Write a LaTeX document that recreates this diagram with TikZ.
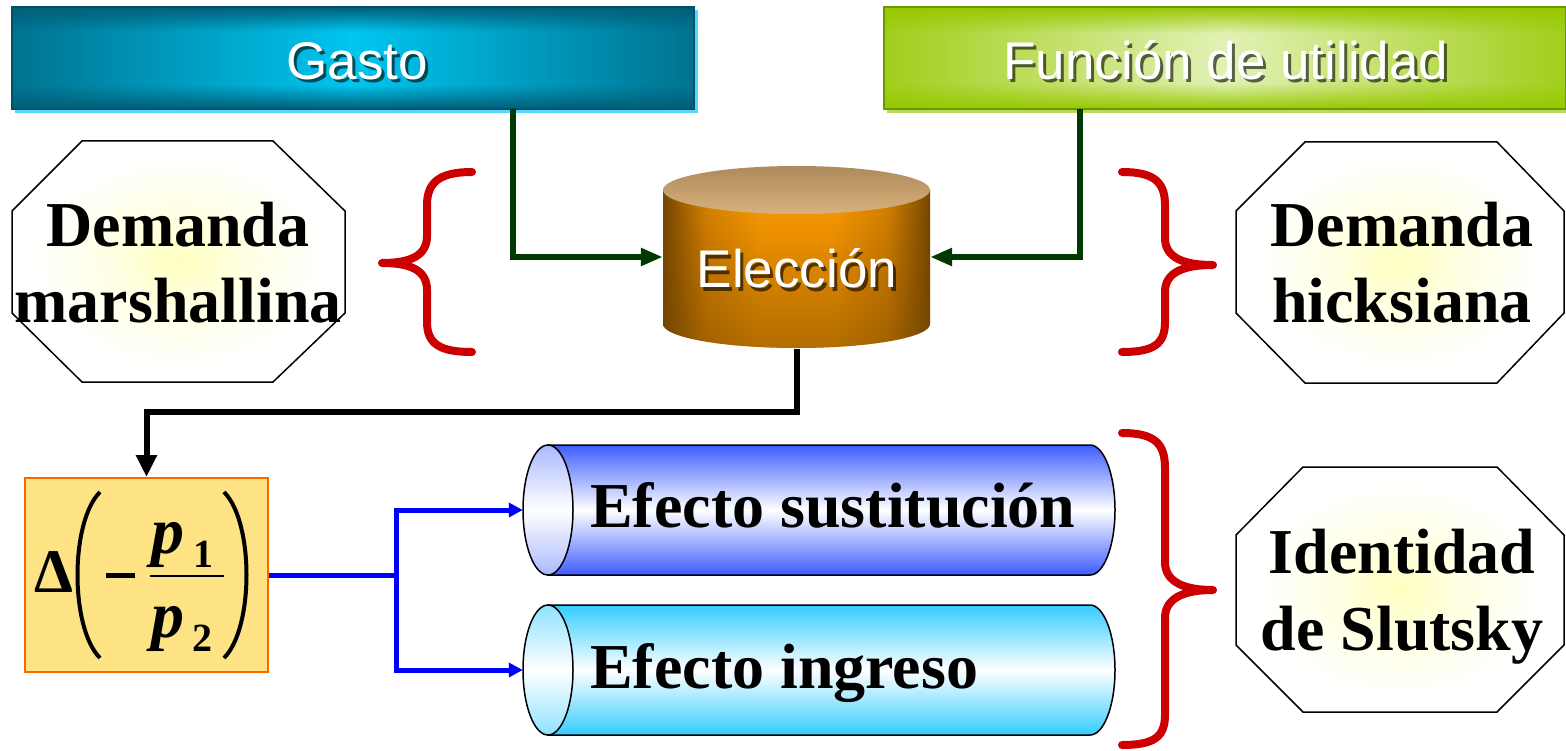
\documentclass[tikz,border=0pt]{standalone}
\usepackage{fontspec}
\setmainfont{Liberation Serif}
\newfontfamily\titlesans{Liberation Sans}
\usetikzlibrary{arrows.meta,calc,fadings}
\definecolor{gastoin}{HTML}{00C6F0}
\definecolor{gastoout}{HTML}{005E78}
\definecolor{gastoline}{HTML}{00506A}
\definecolor{gastoshad}{HTML}{55D8FF}
\definecolor{funcin}{HTML}{E2F2B6}
\definecolor{funcout}{HTML}{97C800}
\definecolor{funcline}{HTML}{6A9800}
\definecolor{funcshad}{HTML}{B8DC5A}
\definecolor{elecin}{HTML}{FF9C00}
\definecolor{elecmid}{HTML}{D88200}
\definecolor{elecout}{HTML}{744600}
\definecolor{electop}{HTML}{AE8A5C}
\definecolor{electopb}{HTML}{D8B27C}
\definecolor{octin}{HTML}{FFFFC0}
\definecolor{octmid}{HTML}{FFFFE4}
\definecolor{bracered}{HTML}{CC0000}
\definecolor{conngreen}{HTML}{003A00}
\definecolor{deltafill}{HTML}{FDE383}
\definecolor{deltaline}{HTML}{FF6600}
\definecolor{sustdark}{HTML}{3D5CFF}
\definecolor{sustface}{HTML}{A9B9FF}
\definecolor{ingrdark}{HTML}{33CCFF}
\definecolor{ingrface}{HTML}{8EE2FF}
\pgfdeclareverticalshading{gastov}{100bp}{color(0bp)=(gastoout); color(25bp)=(gastoout); color(37bp)=(gastoin); color(63bp)=(gastoin); color(75bp)=(gastoout); color(100bp)=(gastoout)}
\pgfdeclareverticalshading{funcv}{100bp}{color(0bp)=(funcout); color(25bp)=(funcout); color(38bp)=(funcin); color(62bp)=(funcin); color(75bp)=(funcout); color(100bp)=(funcout)}
\pgfdeclarehorizontalshading{elech}{100bp}{color(0bp)=(elecout); color(25bp)=(elecout); color(33bp)=(elecmid); color(43bp)=(elecin); color(57bp)=(elecin); color(67bp)=(elecmid); color(75bp)=(elecout); color(100bp)=(elecout)}
\pgfdeclareradialshading{octshade}{\pgfpoint{0bp}{0bp}}{color(0bp)=(octin); color(10bp)=(octmid); color(22bp)=(white); color(50bp)=(white)}
\tikzfading[name=hedge, left color=transparent!0, right color=transparent!0, middle color=transparent!100]
\tikzfading[name=bottomdark, top color=transparent!100, bottom color=transparent!0]
\begin{document}
\begin{tikzpicture}[x=1pt,y=-1pt,
  frame/.style={draw=none,fill=none,inner sep=0pt},
  titletext/.style={font=\titlesans\fontsize{53}{60}\selectfont,text=white,inner sep=0pt},
  titleshadow/.style={font=\titlesans\fontsize{53}{60}\selectfont,text=black,opacity=0.6,inner sep=0pt},
  bigtext/.style={font=\bfseries\fontsize{64}{76}\selectfont,inner sep=0pt},
  octagon/.style={shading=octshade,draw=black,line width=1.5},
  bracestyle/.style={draw=bracered,line width=8,line cap=round,line join=round},
  greenconn/.style={draw=conngreen,line width=5.5,-{Triangle[length=22pt,width=17pt]}},
  blackconn/.style={draw=black,line width=6,-{Triangle[length=22pt,width=20pt]}},
  blueconn/.style={draw=blue,line width=5,-{Triangle[length=14pt,width=14pt]}},
  cylline/.style={draw=black,line width=1.5}
]
\useasboundingbox (0,0) rectangle (1566,751);
% ---------- title boxes
\fill[gastoshad] (15,10) rectangle (698,113);
\shade[shading=gastov] (12,7) rectangle (694,109);
\fill[gastoout,opacity=0.8,path fading=hedge] (12,7) rectangle (694,109);
\draw[gastoline,line width=1.5] (12,7) rectangle (694,109);
\node[frame,minimum width=682,minimum height=102] (gasto) at (353,58) {};
\node[titleshadow,anchor=base] (gastoshadow) at (360,83) {Gasto};
\node[titletext,anchor=base] (gastotext) at (357,80) {Gasto};

\fill[funcshad] (887,10) rectangle (1570,113);
\shade[shading=funcv] (884,7) rectangle (1566,109);
\fill[funcout,opacity=0.85,path fading=hedge] (884,7) rectangle (1566,109);
\draw[funcline,line width=1.5] (884,7) rectangle (1566,109);
\node[frame,minimum width=682,minimum height=102] (funcion) at (1225,58) {};
\node[titleshadow,anchor=base] (funcshadow) at (1229,83) {Función de utilidad};
\node[titletext,anchor=base] (functext) at (1226,80) {Función de utilidad};

% ---------- Eleccion cylinder
\shade[shading=elech] (663,190) -- (663,324) arc[start angle=180,end angle=0,x radius=133.5,y radius=24] -- (930,190) -- cycle;
\fill[elecout,opacity=0.55,path fading=bottomdark] (663,190) -- (663,324) arc[start angle=180,end angle=0,x radius=133.5,y radius=24] -- (930,190) -- cycle;
\shade[top color=electop,bottom color=electopb] (796.5,190) ellipse[x radius=133.5,y radius=24];
\node[frame,minimum width=267,minimum height=184] (elec) at (796.5,257) {};
\node[titleshadow,anchor=base] (elecshadow) at (800,291) {Elección};
\node[titletext,anchor=base] (electext) at (797,288) {Elección};

% ---------- octagons
\shade[octagon] (82,141) -- (273,141) -- (345,211) -- (345,313) -- (273,382) -- (82,382) -- (12,313) -- (12,211) -- cycle;
\node[bigtext,anchor=base] (marsh1) at (178,247) {Demanda};
\node[bigtext,anchor=base] (marsh2) at (178,323) {marshallina};

\shade[octagon] (1305,142) -- (1497,142) -- (1564,211) -- (1564,313) -- (1497,383) -- (1305,383) -- (1236,313) -- (1236,211) -- cycle;
\node[bigtext,anchor=base] (hicks1) at (1402,247) {Demanda};
\node[bigtext,anchor=base] (hicks2) at (1402,323) {hicksiana};

\shade[octagon] (1303,467) -- (1497,467) -- (1564,535) -- (1564,645) -- (1497,712) -- (1303,712) -- (1236,645) -- (1236,535) -- cycle;
\node[bigtext,anchor=base] (slut1) at (1402,573) {Identidad};
\node[bigtext,anchor=base] (slut2) at (1402,650) {de Slutsky};

% ---------- braces
\draw[bracestyle] (472,172) .. controls (440,172) and (427,182) .. (427,205) -- (427,236) .. controls (427,256) and (410,263) .. (382,263) .. controls (410,263) and (427,270) .. (427,290) -- (427,322) .. controls (427,344) and (440,352) .. (472,352);
\draw[bracestyle] (1122,172) .. controls (1154,172) and (1165,182) .. (1165,205) -- (1165,238) .. controls (1165,258) and (1184,265) .. (1213,265) .. controls (1184,265) and (1165,272) .. (1165,292) -- (1165,322) .. controls (1165,344) and (1154,352) .. (1122,352);
\draw[bracestyle] (1122,433) .. controls (1154,433) and (1165,443) .. (1165,468) -- (1165,562) .. controls (1165,582) and (1184,590) .. (1213,590) .. controls (1184,590) and (1165,598) .. (1165,618) -- (1165,715) .. controls (1165,737) and (1154,745) .. (1122,745);

% ---------- delta box
\node[draw=deltaline,fill=deltafill,line width=2,minimum width=243,minimum height=194,inner sep=0pt] (delta) at (146.5,575) {};
\node[font=\bfseries\fontsize{62}{70}\selectfont,inner sep=0pt,anchor=base] (deltasym) at (54,592) {Δ};
\draw[line width=4] (100,492) .. controls (70,522) and (70,628) .. (100,658);
\draw[line width=4] (224,492) .. controls (254,522) and (254,628) .. (224,658);
\draw[line width=5] (106,575) -- (135,575);
\node[font=\bfseries\itshape\fontsize{66}{70}\selectfont,inner sep=0pt,anchor=base] (pone) at (168,553) {p};
\node[font=\bfseries\fontsize{40}{44}\selectfont,inner sep=0pt,anchor=base] (one) at (203,567) {1};
\draw[line width=1.5] (150,576) -- (224,576);
\node[font=\bfseries\itshape\fontsize{66}{70}\selectfont,inner sep=0pt,anchor=base] (ptwo) at (168,637) {p};
\node[font=\bfseries\fontsize{40}{44}\selectfont,inner sep=0pt,anchor=base] (two) at (202,651) {2};

% ---------- horizontal cylinders
\shade[top color=sustdark,bottom color=sustdark,middle color=white,cylline] (548,445) -- (1090,445) arc[start angle=-90,end angle=90,x radius=25,y radius=65] -- (548,575) -- cycle;
\shade[top color=sustface,bottom color=sustface,middle color=white,cylline] (548,510) ellipse[x radius=25,y radius=65];
\node[frame,minimum width=592,minimum height=130] (sust) at (819,510) {};
\node[bigtext,anchor=base west] (susttext) at (590,527) {Efecto sustitución};

\shade[top color=ingrdark,bottom color=ingrdark,middle color=white,cylline] (548,605) -- (1090,605) arc[start angle=-90,end angle=90,x radius=25,y radius=65] -- (548,735) -- cycle;
\shade[top color=ingrface,bottom color=ingrface,middle color=white,cylline] (548,670) ellipse[x radius=25,y radius=65];
\node[frame,minimum width=592,minimum height=130] (ingr) at (819,670) {};
\node[bigtext,anchor=base west] (ingrtext) at (590,688) {Efecto ingreso};

% ---------- connectors
\draw[greenconn] ([xshift=160pt]gasto.south) |- (elec.west);
\draw[greenconn] ([xshift=-145pt]funcion.south) |- (elec.east);
\draw[blackconn] (elec.south) -- ++(0,63) -| (delta.north);
\draw[blueconn] (delta.east) -- ++(127,0) |- (sust.west);
\draw[blueconn] (delta.east) -- ++(127,0) |- (ingr.west);
\end{tikzpicture}
\end{document}
